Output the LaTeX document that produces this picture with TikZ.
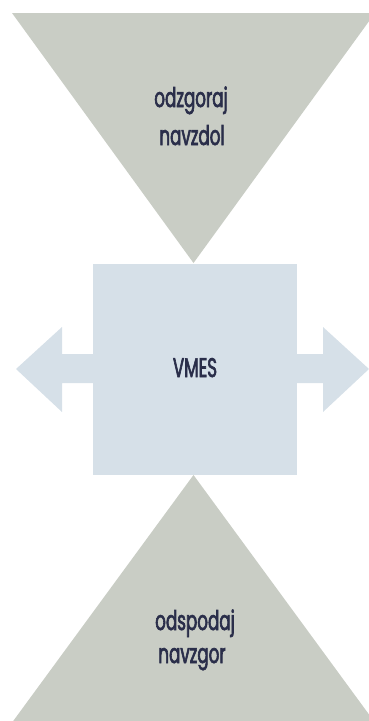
\documentclass[tikz,border=0pt]{standalone}
\usepackage{fontspec}
\setmainfont[FakeStretch=0.62,FakeBold=2.2]{Poppins}
\definecolor{trigray}{HTML}{C9CDC5}
\definecolor{boxblue}{HTML}{D6E0E8}
\definecolor{txtdark}{HTML}{2A2E4A}
\begin{document}
\begin{tikzpicture}[x=1pt,y=-1pt,
  lbl/.style={text=txtdark,font=\fontsize{27}{38}\selectfont,align=center,inner sep=0pt}]
\useasboundingbox (0,0) rectangle (369,721);
% top triangle
\fill[trigray] (12,13) -- (375,13) -- (193.5,263) -- cycle;
% bottom triangle
\fill[trigray] (193.5,475) -- (376,724) -- (11,724) -- cycle;
% side arrows
\fill[boxblue] (95,354) -- (62,354) -- (62,327) -- (16,369) -- (62,412) -- (62,383) -- (95,383) -- cycle;
\fill[boxblue] (295,354) -- (323,354) -- (323,327) -- (369,369) -- (323,412) -- (323,383) -- (295,383) -- cycle;
% centre box
\node[fill=boxblue,minimum width=204pt,minimum height=211pt,inner sep=0pt] (vmes) at (195,369.5) {};
\node[lbl,anchor=base] (vmestxt) at (195,377) {VMES};
\node[lbl,anchor=base] (top1) at (191,107) {odzgoraj};
\node[lbl,anchor=base] (top2) at (192,145) {navzdol};
\node[lbl,anchor=base] (bot1) at (195,630) {odspodaj};
\node[lbl,anchor=base] (bot2) at (192,663) {navzgor};
\end{tikzpicture}
\end{document}
